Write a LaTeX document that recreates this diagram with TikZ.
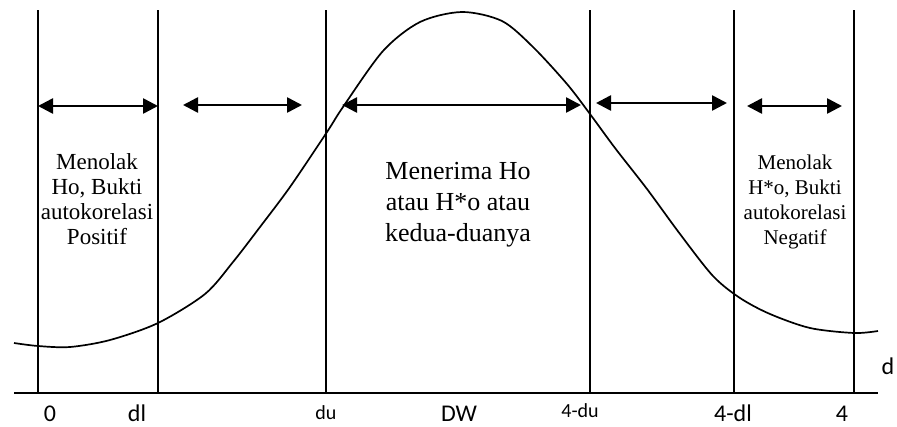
\documentclass[tikz,border=0pt]{standalone}
\usepackage{fontspec}
\setmainfont{Liberation Serif}
\newfontfamily\labfont{Carlito}
\usetikzlibrary{arrows.meta}
\tikzset{
  vline/.style={line width=1.5pt},
  axisline/.style={line width=2pt},
  curveline/.style={line width=1.7pt},
  spanarrow/.style={line width=2.6pt, {Triangle[length=15pt,width=15pt]}-{Triangle[length=15pt,width=15pt]}},
  lab/.style={font=\labfont\fontsize{24}{26}\selectfont, inner sep=0pt, anchor=base},
  labsmall/.style={font=\labfont\fontsize{20}{22}\selectfont, inner sep=0pt, anchor=base},
  region/.style={align=center, inner sep=0pt}
}
\begin{document}
\begin{tikzpicture}[x=1pt,y=-1pt]
\useasboundingbox (0,0) rectangle (897,426);
% axis
\coordinate (axL) at (14,393);
\coordinate (axR) at (878,393);
\draw[axisline] (axL) -- (axR);
% vertical lines
\foreach \n/\x in {v0/38, vdl/158, vdu/326, vfdu/590, vfdl/734, vf/854}{
  \coordinate (\n top) at (\x,10);
  \coordinate (\n bot) at (\x,393);
  \draw[vline] (\n top) -- (\n bot);
}
% curve
\draw[curveline] plot[smooth, tension=0.5] coordinates {
 (14,343) (38,346) (70,347) (110,340) (158,323) (205,294) (233,262) (260,227) (290,187)
 (327,132) (343,107) (383,51) (420,22) (462,12) (502,21) (533,47) (567,84) (590,114)
 (615,148) (647,189) (680,234) (713,276) (740,298) (770,314) (810,328) (854,333) (878,331)};
% ranges
\coordinate (a1l) at (38,106);  \coordinate (a1r) at (158,106);
\coordinate (a2l) at (183,105); \coordinate (a2r) at (302,105);
\coordinate (a3l) at (342,105); \coordinate (a3r) at (581,105);
\coordinate (a4l) at (596,103); \coordinate (a4r) at (727,103);
\coordinate (a5l) at (747,106); \coordinate (a5r) at (842,106);
\draw[spanarrow] (a1l) -- (a1r);
\draw[spanarrow] (a2l) -- (a2r);
\draw[spanarrow] (a3l) -- (a3r);
\draw[spanarrow] (a4l) -- (a4r);
\draw[spanarrow] (a5l) -- (a5r);
% region texts
\node[region, font=\fontsize{23}{25}\selectfont] (tpos) at (97,199) {Menolak\\Ho, Bukti\\autokorelasi\\Positif};
\node[region, font=\fontsize{26}{31}\selectfont] (tmid) at (458,205) {Menerima Ho\\atau H*o atau\\kedua-duanya};
\node[region, font=\fontsize{21}{25}\selectfont] (tneg) at (795,202) {Menolak\\H*o, Bukti\\autokorelasi\\Negatif};
% axis labels
\node[lab] (l0) at (50,421) {0};
\node[lab] (ldl) at (137,421) {dl};
\node[labsmall] (ldu) at (326,419) {du};
\node[lab] (ldw) at (459,421) {DW};
\node[labsmall] (lfdu) at (580,417) {4-du};
\node[lab] (lfdl) at (733,421) {4-dl};
\node[lab] (lf) at (842,421) {4};
\node[lab] (ld) at (888,374) {d};
\end{tikzpicture}
\end{document}
